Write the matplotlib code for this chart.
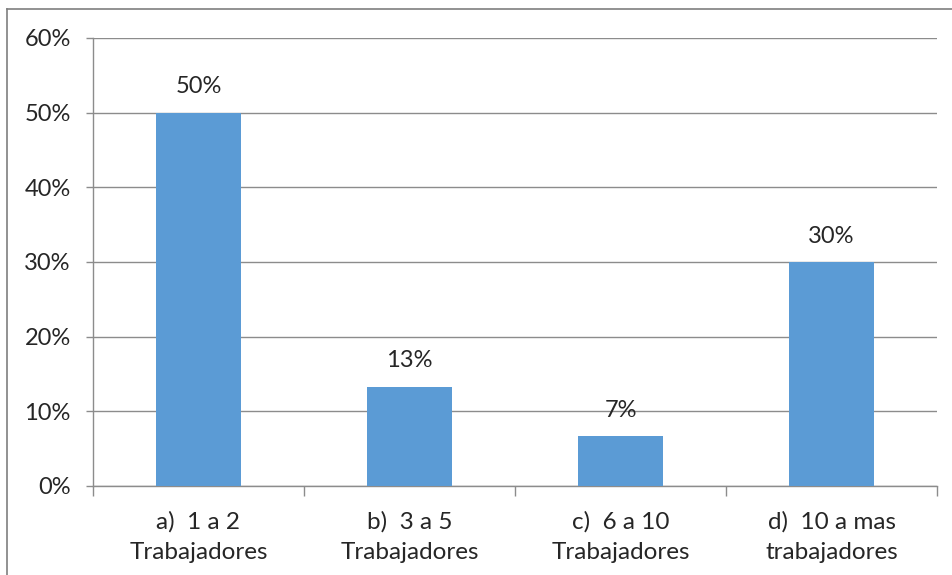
import matplotlib.pyplot as plt
from matplotlib.lines import Line2D

categories = ['a)  1 a 2\nTrabajadores', 'b)  3 a 5\nTrabajadores',
              'c)  6 a 10\nTrabajadores', 'd)  10 a mas\ntrabajadores']
shares = [0.50, 0.133, 0.067, 0.30]
yticks = [0.0, 0.1, 0.2, 0.3, 0.4, 0.5, 0.6]

bar_color = '#5B9BD5'
grid_color = '#8C8C8C'
text_color = '#262626'

plt.rcParams['font.family'] = ['Lato', 'DejaVu Sans']
fs = 17

W, H = 952, 575
fig = plt.figure(figsize=(W / 100, H / 100), dpi=100)
ax = fig.add_axes([93 / W, 1 - 486 / H, (937 - 93) / W, (486 - 38) / H])

x = range(len(categories))
ax.bar(x, shares, width=0.40, color=bar_color, zorder=3)

for xi, v in zip(x, shares):
    ax.annotate(f'{v:.0%}', (xi, v), xytext=(0, 11), textcoords='offset points',
                ha='center', va='bottom', fontsize=fs, color=text_color)

ax.set_xlim(-0.5, len(categories) - 0.5)
ax.set_ylim(0, 0.6)
ax.set_yticks(yticks)
ax.set_yticklabels([f'{t:.0%}' for t in yticks], fontsize=fs, color=text_color)
ax.yaxis.grid(True, color=grid_color, linewidth=1.0, zorder=0)
ax.set_axisbelow(True)

# category labels sit between the boundary tick marks
ax.set_xticks([i - 0.5 for i in range(len(categories) + 1)])
ax.set_xticklabels([])
ax.set_xticks(list(x), minor=True)
ax.set_xticklabels(categories, minor=True, fontsize=17.5, color=text_color,
                   linespacing=1.55)
ax.tick_params(axis='x', which='major', length=7, width=1, color=grid_color,
               direction='out')
ax.tick_params(axis='x', which='minor', length=0, pad=18)
ax.tick_params(axis='y', length=5, width=1, color=grid_color, pad=11)

for side in ['top', 'right']:
    ax.spines[side].set_visible(False)
for side in ['left', 'bottom']:
    ax.spines[side].set_color(grid_color)
    ax.spines[side].set_linewidth(1.0)

# chart-area frame
fig.add_artist(Line2D([7 / W, 1.01], [1 - 8.5 / H, 1 - 8.5 / H],
                      transform=fig.transFigure, color='#7F7F7F', linewidth=1.2))
fig.add_artist(Line2D([7 / W, 7 / W], [-0.01, 1 - 8.5 / H],
                      transform=fig.transFigure, color='#7F7F7F', linewidth=1.2))

fig.savefig('out.png', dpi=100, facecolor='white')
